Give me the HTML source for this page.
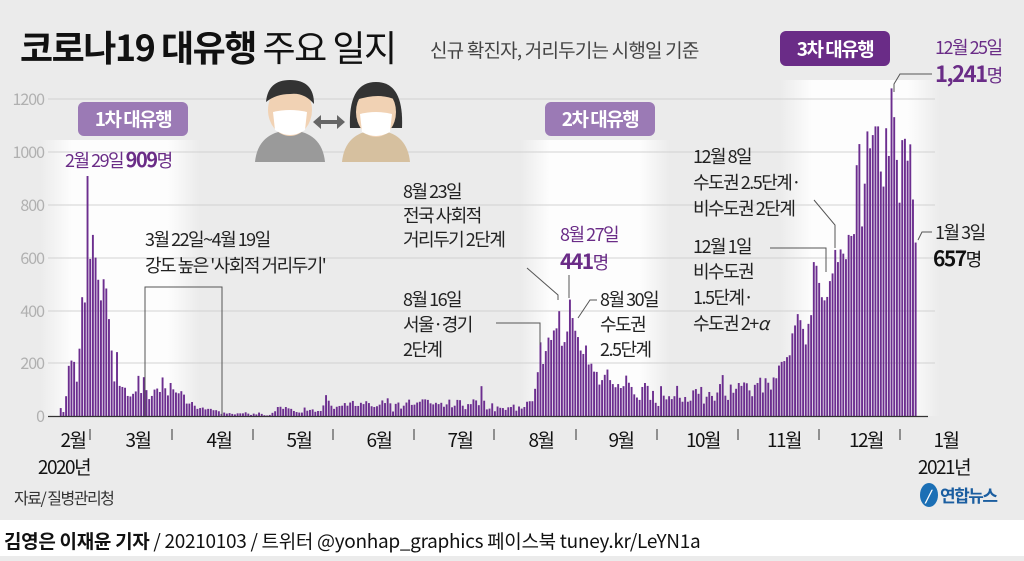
<!DOCTYPE html>
<html><head><meta charset="utf-8"><style>
html,body{margin:0;padding:0;}
body{width:1024px;height:556px;background:#ebebeb;overflow:hidden;font-family:"Noto Sans CJK KR",sans-serif;}
svg text{font-family:"Noto Sans CJK KR","Liberation Sans",sans-serif;}
</style></head><body>
<svg id="s" width="1024" height="556" viewBox="0 0 1024 556" xmlns="http://www.w3.org/2000/svg">
<defs>
<linearGradient id="g1" x1="0" x2="1"><stop offset="0" stop-color="#fff" stop-opacity="0"/><stop offset=".2" stop-color="#fff" stop-opacity="1"/><stop offset=".8" stop-color="#fff" stop-opacity="1"/><stop offset="1" stop-color="#fff" stop-opacity="0"/></linearGradient>
</defs>
<rect x="0" y="520" width="1024" height="36" fill="#fff"/>
<g opacity="0.9">
<rect x="40" y="140" width="160" height="276" fill="url(#g1)"/>
<rect x="520" y="140" width="150" height="276" fill="url(#g1)"/>
<rect x="780" y="80" width="160" height="336" fill="url(#g1)"/>
</g>
<g stroke="#d2d2d2" stroke-width="1">
<line x1="48" y1="99" x2="935" y2="99"/><line x1="48" y1="152" x2="935" y2="152"/>
<line x1="48" y1="205" x2="935" y2="205"/><line x1="48" y1="258" x2="935" y2="258"/>
<line x1="48" y1="311" x2="935" y2="311"/><line x1="48" y1="363" x2="935" y2="363"/>
</g>
<g fill="#b0b0b0" font-size="16" text-anchor="end" letter-spacing="-1">
<text x="44" y="105">1200</text><text x="44" y="158">1000</text><text x="44" y="211">800</text>
<text x="44" y="264">600</text><text x="44" y="317">400</text><text x="44" y="369">200</text><text x="44" y="422">0</text>
</g>
<g id="bars" fill="#6c2e8f"></g>
<line x1="48" y1="416.5" x2="928" y2="416.5" stroke="#333" stroke-width="1.2"/>
<text x="20" y="61" font-size="36" font-weight="bold" fill="#111" letter-spacing="-1.5">코로나19 대유행 <tspan font-weight="normal">주요 일지</tspan></text>
<text x="430" y="57" font-size="19" fill="#444" letter-spacing="-0.8">신규 확진자, 거리두기는 시행일 기준</text>
<rect x="780" y="31" width="110" height="35" rx="6" fill="#6a2c87"/>
<text x="835" y="56" font-size="19" font-weight="bold" fill="#fff" text-anchor="middle" letter-spacing="-1.5">3차 대유행</text>
<text x="935" y="54" font-size="18" fill="#6a2c87" letter-spacing="-1.5">12월 25일</text>
<text x="935" y="82" font-size="22" font-weight="bold" fill="#6a2c87" letter-spacing="-1.5">1,241<tspan font-size="18" font-weight="normal">명</tspan></text>
<polyline points="932,74 900,74 894,84 894,92" fill="none" stroke="#555" stroke-width="1"/>
<rect x="78" y="102" width="110" height="34" rx="6" fill="#9b7ab5"/>
<text x="133" y="126" font-size="19" font-weight="bold" fill="#fff" text-anchor="middle" letter-spacing="-1.5">1차 대유행</text>
<rect x="545" y="102" width="110" height="34" rx="6" fill="#9b7ab5"/>
<text x="600" y="126" font-size="19" font-weight="bold" fill="#fff" text-anchor="middle" letter-spacing="-1.5">2차 대유행</text>
<text x="65" y="167" font-size="18" fill="#6a2c87" letter-spacing="-1.5">2월 29일 <tspan font-weight="bold" font-size="20">909</tspan>명</text>
<g>
<path d="M255 162 Q258 132 290 130 Q322 132 325 162 Z" fill="#9a9a9a"/>
<ellipse cx="290" cy="110" rx="22" ry="26" fill="#f1d2b4"/>
<path d="M266 102 Q268 80 290 80 Q314 80 314 104 Q304 92 290 94 Q276 94 266 102Z" fill="#333"/>
<path d="M273 112 Q290 108 307 112 L305 130 Q290 140 275 130Z" fill="#fff"/>
<path d="M342 162 Q345 132 376 130 Q407 132 410 162 Z" fill="#d6c09f"/>
<path d="M350 128 Q348 82 376 82 Q404 82 402 128Z" fill="#333"/>
<ellipse cx="376" cy="112" rx="20" ry="25" fill="#f1d2b4"/>
<path d="M356 100 Q362 86 376 86 Q392 86 396 100 Q380 92 356 100Z" fill="#333"/>
<path d="M360 114 Q376 110 392 114 L390 132 Q376 140 362 132Z" fill="#fff"/>
<path d="M313 122 L321 115 L321 120 L337 120 L337 115 L345 122 L337 129 L337 124 L321 124 L321 129Z" fill="#666"/>
</g>
<g font-size="18" fill="#222" letter-spacing="-1.5">
<text x="145" y="246">3월 22일~4월 19일</text>
<text x="145" y="272">강도 높은 '사회적 거리두기'</text>
<text x="403" y="198">8월 23일</text>
<text x="403" y="222">전국 사회적</text>
<text x="403" y="246">거리두기 2단계</text>
<text x="403" y="306">8월 16일</text>
<text x="403" y="331">서울·경기</text>
<text x="403" y="356">2단계</text>
<text x="600" y="306">8월 30일</text>
<text x="600" y="331">수도권</text>
<text x="600" y="356">2.5단계</text>
<text x="693" y="163">12월 8일</text>
<text x="693" y="189">수도권 2.5단계·</text>
<text x="693" y="215">비수도권 2단계</text>
<text x="693" y="253">12월 1일</text>
<text x="693" y="278">비수도권</text>
<text x="693" y="304">1.5단계·</text>
<text x="693" y="330">수도권 2+<tspan font-style="italic">α</tspan></text>
<text x="935" y="239">1월 3일</text>
</g>
<text x="560" y="241" font-size="18" fill="#6a2c87" letter-spacing="-1.5">8월 27일</text>
<text x="560" y="269" font-size="21" font-weight="bold" fill="#6a2c87" letter-spacing="-1.5">441<tspan font-size="18" font-weight="normal">명</tspan></text>
<text x="933" y="266" font-size="21" font-weight="bold" fill="#111" letter-spacing="-1.5">657<tspan font-size="18" font-weight="normal">명</tspan></text>
<g fill="none" stroke="#555" stroke-width="1">
<polyline points="145,416 145,287 222,287 222,416"/>
<polyline points="496,323 540,323 540,345"/>
<polyline points="527,268 558,295 558,300"/>
<line x1="569" y1="275" x2="569" y2="298"/>
<polyline points="597,300 590,300 578,318"/>
<polyline points="814,200 835,225 835,248"/>
<polyline points="770,248 826,248 826,272"/>
<polyline points="932,232 922,232 918,240"/>
</g>
<g font-size="19" fill="#111" letter-spacing="-1.5" text-anchor="middle">
<text x="73" y="447">2월</text><text x="138" y="447">3월</text><text x="219" y="447">4월</text>
<text x="299" y="447">5월</text><text x="379" y="447">6월</text><text x="460" y="447">7월</text>
<text x="541" y="447">8월</text><text x="621" y="447">9월</text><text x="703" y="447">10월</text>
<text x="784" y="447">11월</text><text x="866" y="447">12월</text><text x="946" y="447">1월</text>
<text x="64" y="474">2020년</text><text x="944" y="474">2021년</text>
</g>
<g stroke="#333" stroke-width="1">
<line x1="90" y1="429" x2="90" y2="440"/><line x1="172" y1="429" x2="172" y2="440"/>
<line x1="253" y1="429" x2="253" y2="440"/><line x1="333" y1="429" x2="333" y2="440"/>
<line x1="414" y1="429" x2="414" y2="440"/><line x1="494" y1="429" x2="494" y2="440"/>
<line x1="576" y1="429" x2="576" y2="440"/><line x1="657" y1="429" x2="657" y2="440"/>
<line x1="738" y1="429" x2="738" y2="440"/><line x1="819" y1="429" x2="819" y2="440"/>
<line x1="900" y1="429" x2="900" y2="440"/>
</g>
<text x="14" y="504" font-size="16" fill="#333" letter-spacing="-1.5">자료/ 질병관리청</text>
<ellipse cx="929" cy="495" rx="9" ry="12" fill="#1b6fb5"/>
<text x="925" y="501" font-size="14" fill="#fff" font-style="italic" font-weight="bold">/</text>
<text x="940" y="502" font-size="17" font-weight="bold" fill="#1b5ea0" letter-spacing="-1.5">연합뉴스</text>
<text x="4" y="548" font-size="19" fill="#111" letter-spacing="-0.3"><tspan font-weight="bold">김영은 이재윤 기자</tspan> / 20210103 / 트위터 @yonhap_graphics  페이스북 tuney.kr/LeYN1a</text>
</svg>
<script>
var d=[30,15,75,190,210,205,130,255,450,430,909,
595,686,600,516,438,518,483,367,248,131,242,114,110,107,76,74,84,93,152,87,147,98,64,76,100,104,91,146,105,78,125,
101,89,86,94,81,47,47,53,39,27,30,32,25,27,27,22,22,18,8,13,9,11,8,6,10,10,10,14,9,4,
9,6,13,8,3,2,4,12,18,34,35,27,34,29,27,19,15,13,13,32,20,23,25,16,19,19,40,79,58,39,27,
35,38,39,49,39,51,57,38,38,50,45,56,49,37,34,37,43,59,49,67,48,17,46,51,28,39,51,62,42,43,
51,54,63,63,61,48,44,50,45,50,35,44,62,33,39,61,60,39,26,45,45,63,59,41,113,58,25,28,48,18,36,
31,30,23,33,34,43,20,36,28,34,54,56,56,103,166,279,197,246,297,288,324,332,397,266,280,320,441,371,323,299,248,
235,267,195,198,168,167,119,136,156,176,136,121,109,121,106,113,153,126,110,82,70,61,110,125,114,61,95,50,38,113,
77,63,75,64,75,114,69,54,72,54,58,97,102,84,110,47,73,91,76,58,89,121,155,77,61,119,88,103,125,114,127,
124,97,75,118,125,145,89,143,126,100,146,143,191,205,208,223,230,313,343,386,363,330,271,349,382,583,569,504,450,438,
451,511,540,629,583,631,615,594,686,682,689,950,1030,718,880,1078,1014,1064,1097,1097,926,869,1090,985,1241,1132,970,808,1045,1050,967,
1029,820,657];
var g=document.getElementById('bars'),h='';
var x0=915.6-(d.length-1)*2.68;
for(var i=0;i<d.length;i++){var hh=d[i]*0.264;h+='<rect x="'+(x0+i*2.68-0.9).toFixed(2)+'" y="'+(416-hh).toFixed(2)+'" width="1.9" height="'+hh.toFixed(2)+'"/>';}
g.innerHTML=h;
</script>
</body></html>
